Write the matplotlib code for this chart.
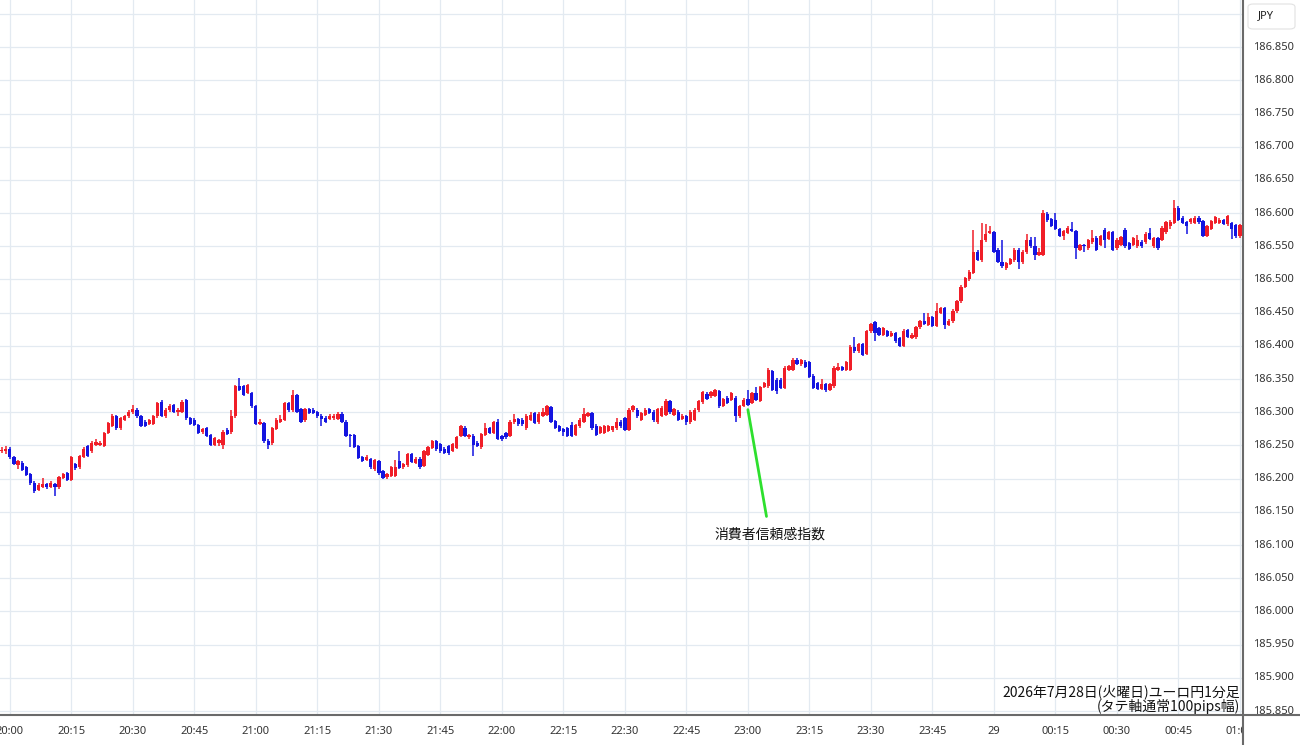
import numpy as np
import matplotlib
matplotlib.use("Agg")
import matplotlib.pyplot as plt
from matplotlib.patches import FancyBboxPatch
from matplotlib.lines import Line2D

plt.rcParams['font.family'] = ['Noto Sans', 'Noto Sans CJK JP', 'DejaVu Sans']

# EUR/JPY 1-minute candles, minutes after 20:00
minutes = np.arange(-2, 302)

opens = [
    186.241, 186.241, 186.245, 186.232, 186.221, 186.224, 186.217, 186.207, 186.194, 186.183,
    186.188, 186.192, 186.188, 186.192, 186.187, 186.201, 186.208, 186.198, 186.222, 186.217,
    186.233, 186.249, 186.241, 186.251, 186.251, 186.249, 186.269, 186.280, 186.294, 186.276,
    186.289, 186.294, 186.300, 186.304, 186.294, 186.286, 186.283, 186.283, 186.294, 186.315,
    186.294, 186.303, 186.311, 186.301, 186.301, 186.318, 186.291, 186.289, 186.281, 186.270,
    186.276, 186.266, 186.251, 186.253, 186.251, 186.274, 186.270, 186.294, 186.340, 186.339,
    186.329, 186.329, 186.309, 186.283, 186.284, 186.257, 186.253, 186.275, 186.286, 186.289,
    186.314, 186.303, 186.326, 186.305, 186.288, 186.305, 186.304, 186.300, 186.295, 186.292,
    186.290, 186.291, 186.290, 186.298, 186.286, 186.266, 186.266, 186.249, 186.232, 186.228,
    186.229, 186.214, 186.226, 186.211, 186.202, 186.204, 186.204, 186.226, 186.217, 186.220,
    186.237, 186.224, 186.230, 186.219, 186.236, 186.246, 186.256, 186.252, 186.245, 186.249,
    186.242, 186.246, 186.264, 186.277, 186.262, 186.265, 186.254, 186.247, 186.266, 186.276,
    186.269, 186.285, 186.264, 186.269, 186.264, 186.285, 186.290, 186.289, 186.276, 186.289,
    186.299, 186.285, 186.295, 186.296, 186.308, 186.287, 186.279, 186.275, 186.276, 186.281,
    186.266, 186.279, 186.286, 186.295, 186.299, 186.280, 186.269, 186.269, 186.272, 186.274,
    186.276, 186.286, 186.291, 186.274, 186.303, 186.304, 186.289, 186.296, 186.305, 186.301,
    186.285, 186.295, 186.296, 186.317, 186.296, 186.301, 186.290, 186.294, 186.285, 186.289,
    186.303, 186.315, 186.328, 186.324, 186.325, 186.332, 186.310, 186.322, 186.319, 186.322,
    186.294, 186.310, 186.320, 186.314, 186.329, 186.317, 186.338, 186.339, 186.362, 186.349,
    186.349, 186.337, 186.364, 186.364, 186.379, 186.372, 186.376, 186.375, 186.355, 186.344,
    186.335, 186.342, 186.334, 186.339, 186.364, 186.368, 186.364, 186.364, 186.399, 186.392,
    186.403, 186.388, 186.422, 186.436, 186.427, 186.417, 186.422, 186.415, 186.419, 186.412,
    186.400, 186.424, 186.412, 186.413, 186.428, 186.438, 186.432, 186.443, 186.430, 186.450,
    186.457, 186.432, 186.437, 186.452, 186.467, 186.489, 186.500, 186.510, 186.542, 186.529,
    186.559, 186.570, 186.571, 186.545, 186.527, 186.517, 186.524, 186.529, 186.545, 186.526,
    186.541, 186.560, 186.550, 186.537, 186.537, 186.599, 186.591, 186.589, 186.576, 186.566,
    186.570, 186.576, 186.573, 186.545, 186.552, 186.547, 186.556, 186.563, 186.552, 186.575,
    186.561, 186.571, 186.547, 186.552, 186.575, 186.555, 186.552, 186.550, 186.557, 186.556,
    186.570, 186.550, 186.562, 186.560, 186.571, 186.580, 186.585, 186.608, 186.593, 186.586,
    186.586, 186.585, 186.593, 186.588, 186.566, 186.576, 186.585, 186.585, 186.589, 186.583,
    186.585, 186.582, 186.565, 186.582,
]

highs = [
    186.247, 186.249, 186.248, 186.234, 186.228, 186.226, 186.219, 186.209, 186.196, 186.193,
    186.201, 186.194, 186.196, 186.194, 186.204, 186.209, 186.210, 186.234, 186.224, 186.236,
    186.247, 186.251, 186.256, 186.260, 186.256, 186.271, 186.286, 186.298, 186.296, 186.293,
    186.296, 186.303, 186.311, 186.306, 186.296, 186.288, 186.290, 186.296, 186.316, 186.318,
    186.306, 186.312, 186.313, 186.306, 186.318, 186.320, 186.293, 186.291, 186.283, 186.277,
    186.278, 186.268, 186.263, 186.260, 186.273, 186.276, 186.304, 186.341, 186.351, 186.341,
    186.343, 186.331, 186.311, 186.290, 186.286, 186.259, 186.278, 186.291, 186.296, 186.316,
    186.316, 186.334, 186.328, 186.307, 186.307, 186.307, 186.306, 186.302, 186.297, 186.294,
    186.297, 186.298, 186.300, 186.300, 186.288, 186.268, 186.268, 186.251, 186.234, 186.236,
    186.231, 186.230, 186.228, 186.213, 186.209, 186.219, 186.228, 186.241, 186.224, 186.239,
    186.239, 186.232, 186.232, 186.243, 186.249, 186.258, 186.258, 186.254, 186.247, 186.251,
    186.254, 186.264, 186.281, 186.279, 186.268, 186.267, 186.256, 186.269, 186.284, 186.278,
    186.287, 186.290, 186.266, 186.271, 186.288, 186.297, 186.292, 186.291, 186.297, 186.301,
    186.301, 186.300, 186.306, 186.311, 186.310, 186.289, 186.281, 186.277, 186.278, 186.285,
    186.283, 186.291, 186.306, 186.301, 186.301, 186.282, 186.280, 186.281, 186.281, 186.280,
    186.291, 186.288, 186.293, 186.306, 186.311, 186.306, 186.301, 186.306, 186.307, 186.303,
    186.307, 186.309, 186.320, 186.319, 186.307, 186.303, 186.297, 186.296, 186.303, 186.306,
    186.319, 186.332, 186.331, 186.332, 186.335, 186.334, 186.322, 186.324, 186.331, 186.324,
    186.311, 186.321, 186.334, 186.331, 186.338, 186.340, 186.346, 186.366, 186.364, 186.351,
    186.351, 186.369, 186.371, 186.381, 186.381, 186.380, 186.378, 186.377, 186.357, 186.346,
    186.350, 186.344, 186.344, 186.369, 186.374, 186.370, 186.377, 186.401, 186.413, 186.405,
    186.405, 186.424, 186.435, 186.438, 186.429, 186.429, 186.424, 186.422, 186.421, 186.414,
    186.425, 186.426, 186.419, 186.430, 186.439, 186.449, 186.450, 186.445, 186.464, 186.459,
    186.459, 186.440, 186.455, 186.469, 186.491, 186.504, 186.514, 186.575, 186.544, 186.585,
    186.583, 186.581, 186.573, 186.547, 186.560, 186.527, 186.533, 186.547, 186.547, 186.544,
    186.569, 186.564, 186.564, 186.547, 186.604, 186.601, 186.593, 186.600, 186.578, 186.575,
    186.580, 186.587, 186.575, 186.554, 186.554, 186.561, 186.574, 186.565, 186.567, 186.577,
    186.573, 186.573, 186.562, 186.566, 186.577, 186.557, 186.564, 186.567, 186.559, 186.571,
    186.577, 186.564, 186.564, 186.580, 186.588, 186.589, 186.620, 186.610, 186.595, 186.588,
    186.593, 186.596, 186.595, 186.590, 186.582, 186.590, 186.596, 186.593, 186.591, 186.597,
    186.587, 186.584, 186.584, 186.597,
]

lows = [
    186.238, 186.237, 186.230, 186.220, 186.214, 186.211, 186.204, 186.191, 186.178, 186.181,
    186.186, 186.185, 186.186, 186.174, 186.185, 186.199, 186.196, 186.196, 186.213, 186.215,
    186.231, 186.232, 186.239, 186.249, 186.249, 186.247, 186.267, 186.278, 186.274, 186.274,
    186.287, 186.292, 186.298, 186.292, 186.278, 186.278, 186.281, 186.281, 186.292, 186.293,
    186.292, 186.301, 186.299, 186.294, 186.299, 186.289, 186.281, 186.279, 186.267, 186.268,
    186.262, 186.249, 186.249, 186.249, 186.245, 186.266, 186.268, 186.292, 186.332, 186.324,
    186.327, 186.307, 186.281, 186.281, 186.254, 186.245, 186.251, 186.273, 186.284, 186.287,
    186.301, 186.301, 186.299, 186.284, 186.286, 186.297, 186.297, 186.292, 186.279, 186.284,
    186.288, 186.289, 186.288, 186.284, 186.262, 186.248, 186.246, 186.229, 186.225, 186.226,
    186.215, 186.212, 186.206, 186.199, 186.200, 186.202, 186.202, 186.214, 186.215, 186.218,
    186.223, 186.222, 186.215, 186.217, 186.234, 186.244, 186.242, 186.239, 186.237, 186.236,
    186.240, 186.244, 186.262, 186.262, 186.260, 186.234, 186.247, 186.245, 186.264, 186.267,
    186.267, 186.258, 186.257, 186.259, 186.262, 186.283, 186.280, 186.280, 186.274, 186.287,
    186.282, 186.283, 186.293, 186.294, 186.284, 186.275, 186.270, 186.264, 186.262, 186.262,
    186.264, 186.277, 186.284, 186.293, 186.274, 186.264, 186.267, 186.267, 186.270, 186.271,
    186.274, 186.277, 186.272, 186.272, 186.301, 186.292, 186.287, 186.294, 186.297, 186.286,
    186.283, 186.293, 186.294, 186.298, 186.294, 186.287, 186.288, 186.281, 186.283, 186.287,
    186.301, 186.313, 186.318, 186.322, 186.323, 186.307, 186.308, 186.312, 186.317, 186.285,
    186.292, 186.308, 186.309, 186.312, 186.317, 186.315, 186.336, 186.337, 186.332, 186.327,
    186.335, 186.335, 186.362, 186.362, 186.371, 186.370, 186.366, 186.351, 186.335, 186.333,
    186.333, 186.330, 186.332, 186.337, 186.362, 186.362, 186.362, 186.362, 186.390, 186.390,
    186.385, 186.386, 186.420, 186.407, 186.415, 186.415, 186.413, 186.413, 186.405, 186.398,
    186.398, 186.412, 186.410, 186.411, 186.426, 186.431, 186.430, 186.428, 186.428, 186.448,
    186.425, 186.430, 186.435, 186.450, 186.465, 186.487, 186.498, 186.508, 186.528, 186.527,
    186.557, 186.568, 186.540, 186.525, 186.518, 186.515, 186.522, 186.527, 186.516, 186.524,
    186.539, 186.548, 186.529, 186.535, 186.535, 186.587, 186.579, 186.574, 186.564, 186.560,
    186.568, 186.571, 186.531, 186.543, 186.542, 186.545, 186.554, 186.543, 186.550, 186.547,
    186.559, 186.543, 186.545, 186.550, 186.548, 186.544, 186.550, 186.548, 186.548, 186.554,
    186.559, 186.548, 186.545, 186.558, 186.569, 186.576, 186.583, 186.588, 186.583, 186.569,
    186.584, 186.583, 186.584, 186.564, 186.564, 186.574, 186.583, 186.583, 186.582, 186.581,
    186.561, 186.563, 186.563, 186.580,
]

closes = [
    186.243, 186.244, 186.232, 186.222, 186.226, 186.213, 186.206, 186.194, 186.181, 186.191,
    186.192, 186.187, 186.193, 186.187, 186.202, 186.207, 186.198, 186.232, 186.216, 186.234,
    186.245, 186.234, 186.254, 186.255, 186.254, 186.269, 186.284, 186.294, 186.276, 186.291,
    186.294, 186.301, 186.305, 186.294, 186.280, 186.280, 186.288, 186.294, 186.314, 186.295,
    186.304, 186.310, 186.301, 186.304, 186.316, 186.291, 186.283, 186.281, 186.269, 186.275,
    186.264, 186.251, 186.261, 186.258, 186.271, 186.268, 186.294, 186.339, 186.334, 186.326,
    186.341, 186.309, 186.283, 186.286, 186.256, 186.251, 186.276, 186.289, 186.290, 186.314,
    186.303, 186.326, 186.301, 186.286, 186.305, 186.299, 186.299, 186.294, 186.290, 186.286,
    186.295, 186.295, 186.298, 186.286, 186.264, 186.264, 186.248, 186.231, 186.227, 186.232,
    186.217, 186.228, 186.208, 186.201, 186.207, 186.217, 186.218, 186.216, 186.222, 186.237,
    186.225, 186.230, 186.217, 186.241, 186.247, 186.256, 186.244, 186.241, 186.239, 186.239,
    186.252, 186.262, 186.279, 186.264, 186.266, 186.250, 186.249, 186.267, 186.276, 186.269,
    186.285, 186.260, 186.259, 186.262, 186.286, 186.290, 186.282, 186.282, 186.295, 186.296,
    186.284, 186.298, 186.300, 186.309, 186.286, 186.277, 186.272, 186.270, 186.264, 186.264,
    186.281, 186.289, 186.297, 186.299, 186.276, 186.266, 186.278, 186.279, 186.279, 186.279,
    186.286, 186.279, 186.274, 186.304, 186.309, 186.294, 186.299, 186.304, 186.299, 186.288,
    186.305, 186.307, 186.317, 186.300, 186.305, 186.289, 186.295, 186.285, 186.301, 186.304,
    186.317, 186.330, 186.320, 186.330, 186.333, 186.309, 186.320, 186.314, 186.329, 186.294,
    186.309, 186.319, 186.311, 186.329, 186.319, 186.338, 186.344, 186.364, 186.334, 186.332,
    186.337, 186.367, 186.369, 186.379, 186.373, 186.378, 186.368, 186.353, 186.337, 186.335,
    186.342, 186.334, 186.342, 186.367, 186.368, 186.364, 186.375, 186.399, 186.392, 186.403,
    186.387, 186.422, 186.433, 186.419, 186.417, 186.427, 186.415, 186.420, 186.407, 186.400,
    186.423, 186.414, 186.417, 186.428, 186.437, 186.433, 186.444, 186.430, 186.452, 186.457,
    186.432, 186.438, 186.453, 186.467, 186.489, 186.502, 186.512, 186.542, 186.530, 186.560,
    186.569, 186.573, 186.542, 186.527, 186.520, 186.525, 186.531, 186.545, 186.526, 186.542,
    186.560, 186.550, 186.537, 186.541, 186.600, 186.589, 186.581, 186.576, 186.566, 186.573,
    186.578, 186.573, 186.547, 186.552, 186.550, 186.559, 186.562, 186.545, 186.565, 186.560,
    186.571, 186.545, 186.560, 186.564, 186.550, 186.546, 186.562, 186.560, 186.550, 186.569,
    186.561, 186.562, 186.547, 186.578, 186.586, 186.587, 186.608, 186.590, 186.585, 186.581,
    186.591, 186.593, 186.586, 186.566, 186.580, 186.588, 186.594, 186.589, 186.584, 186.595,
    186.576, 186.565, 186.582, 186.595,
]

time_ticks = np.arange(0, 301, 15)
time_labels = ['20:00', '20:15', '20:30', '20:45', '21:00', '21:15', '21:30', '21:45',
               '22:00', '22:15', '22:30', '22:45', '23:00', '23:15', '23:30', '23:45',
               '29', '00:15', '00:30', '00:45', '01:00']
price_ticks = np.round(np.arange(185.85, 186.851, 0.05), 3)

event_label = '消費者信頼感指数'
event_minute = 180
event_price = 186.304
title_lines = ['2026年7月28日(火曜日)ユーロ円1分足', '(タテ軸通常100pips幅)']

UP = '#f01e28'
DOWN = '#1414e0'
GRID = '#e3eaf1'
AXC = '#6a6a6a'

W, H = 1300, 745
fig = plt.figure(figsize=(13, 7.45), dpi=100)
fig.patch.set_facecolor('white')

ax = fig.add_axes([0, 30 / H, 1243 / W, 715 / H])
ax.set_xlim(-2.4, 300.75)
ax.set_ylim(185.844, 186.921)

o = np.array(opens); c = np.array(closes)
h = np.array(highs); l = np.array(lows)
up = c >= o
cols = np.where(up, UP, DOWN)

ax.vlines(minutes, l, h, colors=cols, linewidth=1.1, zorder=3)
body = np.maximum(np.abs(c - o), 0.0009)
ax.bar(minutes, body, bottom=np.minimum(o, c), width=0.8, color=cols,
       linewidth=0, zorder=4)

ax.set_xticks(time_ticks)
ax.set_yticks(np.round(np.arange(185.85, 186.901, 0.05), 3))
ax.grid(True, color=GRID, linewidth=0.9, zorder=0)
ax.tick_params(length=0, labelbottom=False, labelleft=False)
for s in ax.spines.values():
    s.set_visible(False)

# event annotation
ax.annotate(event_label, xy=(event_minute, event_price), xytext=(185.3, 186.116),
            fontsize=10, ha='center', va='center', color='#111111',
            family=['Noto Sans CJK JP', 'DejaVu Sans'],
            arrowprops=dict(arrowstyle='-', color='#2ee02e', lw=2,
                            shrinkA=6, shrinkB=0))

# caption bottom-right
ax.text(0.9975, 0.0325, title_lines[0], transform=ax.transAxes, ha='right', va='center',
        fontsize=10, color='#111111', family=['Noto Sans CJK JP', 'DejaVu Sans'])
ax.text(0.9975, 0.0125, title_lines[1], transform=ax.transAxes, ha='right', va='center',
        fontsize=10, color='#111111', family=['Noto Sans CJK JP', 'DejaVu Sans'])

# time scale strip
tax = fig.add_axes([0, 0, 1243 / W, 30 / H])
tax.set_xlim(ax.get_xlim())
tax.set_ylim(0, 1)
tax.axis('off')
for t, lab in zip(time_ticks, time_labels):
    tax.text(t, 0.45, lab, ha='center', va='center', fontsize=8, color='#333333',
             clip_on=True, fontweight='bold' if lab == '29' else 'normal')

# price scale strip
pax = fig.add_axes([1243 / W, 30 / H, 57 / W, 715 / H])
pax.set_ylim(ax.get_ylim())
pax.set_xlim(0, 1)
pax.axis('off')
for p in price_ticks:
    pax.text(0.17, p, f'{p:.3f}', ha='left', va='center', fontsize=8, color='#333333')

box = FancyBboxPatch((1248 / W, (H - 29) / H), 47 / W, 25 / H,
                     boxstyle='round,pad=0,rounding_size=0.004',
                     transform=fig.transFigure, facecolor='white',
                     edgecolor='#e2e2e2', linewidth=0.8)
fig.add_artist(box)
fig.text(1266 / W, (H - 16) / H, 'JPY', ha='center', va='center', fontsize=8, color='#222222')

# frame lines
fig.add_artist(Line2D([0, 1], [30 / H, 30 / H], transform=fig.transFigure,
                      color=AXC, linewidth=1.5))
fig.add_artist(Line2D([1243 / W, 1243 / W], [0, 1], transform=fig.transFigure,
                      color=AXC, linewidth=1.5))

fig.savefig('out.png', dpi=100, facecolor='white')
